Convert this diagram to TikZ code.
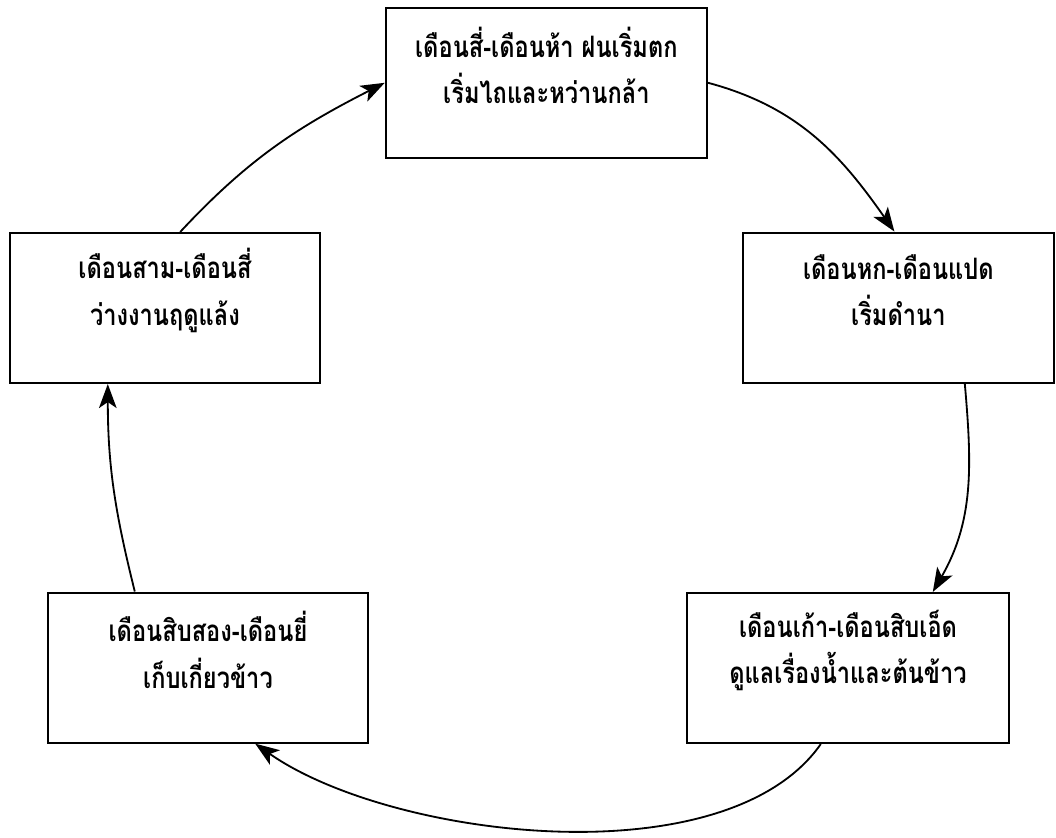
\documentclass[tikz,border=0pt]{standalone}
\usepackage{fontspec}
\newfontfamily\thaifont[Script=Thai, FakeStretch=0.8]{Loma}
\usetikzlibrary{arrows.meta}

\begin{document}
\begin{tikzpicture}[
    box/.style={draw, line width=1.5pt, minimum width=7.9cm, minimum height=3.75cm, inner sep=0pt}, % season box
    txt/.style={align=center, font=\thaifont\bfseries\fontsize{21}{33}\selectfont},
    arr/.style={line width=1.3pt, -{Stealth[length=6mm, width=4.4mm, inset=1.5mm]}} % cycle arrow
]
    \useasboundingbox (0,0) rectangle (26.4,20.95);

    % --- BOXES ---
    \node[box, minimum width=8.03cm] (rain) at (13.66,18.88) {};
    \node[box, minimum width=7.78cm] (plant) at (22.46,13.26) {};
    \node[box, minimum width=8.05cm] (water) at (21.2,4.25) {};
    \node[box, minimum width=8.0cm]  (harvest) at (5.2,4.26) {};
    \node[box, minimum width=7.75cm] (dry) at (4.125,13.25) {};

    % --- TEXTS ---
    \node[txt] (rain-t) at ([yshift=-1.46cm]rain.north) {เดือนสี่-เดือนห้า ฝนเริ่มตก\\เริ่มไถและหว่านกล้า};
    \node[txt] (plant-t) at ([yshift=-1.46cm]plant.north) {เดือนหก-เดือนแปด\\เริ่มดำนา};
    \node[txt] (water-t) at ([yshift=-1.46cm]water.north) {เดือนเก้า-เดือนสิบเอ็ด\\ดูแลเรื่องน้ำและต้นข้าว};
    \node[txt] (harvest-t) at ([yshift=-1.46cm]harvest.north) {เดือนสิบสอง-เดือนยี่\\เก็บเกี่ยวข้าว};
    \node[txt] (dry-t) at ([yshift=-1.46cm]dry.north) {เดือนสาม-เดือนสี่\\ว่างงานฤดูแล้ง};

    % --- CYCLE ---
    \draw[arr] (rain.east) to[out=-15, in=125] ([xshift=-0.1cm]plant.north);
    \draw[arr] ([xshift=1.66cm]plant.south) to[out=-85, in=60] ([xshift=2.12cm]water.north);
    \draw[arr] ([xshift=-0.68cm]water.south) to[out=-125, in=-35, looseness=0.75] ([xshift=1.18cm]harvest.south);
    \draw[arr] ([xshift=-1.83cm]harvest.north) to[out=104, in=-90] ([xshift=-1.43cm]dry.south);
    \draw[arr] ([xshift=0.38cm]dry.north) to[out=47, in=-153] (rain.west);

\end{tikzpicture}
\end{document}
